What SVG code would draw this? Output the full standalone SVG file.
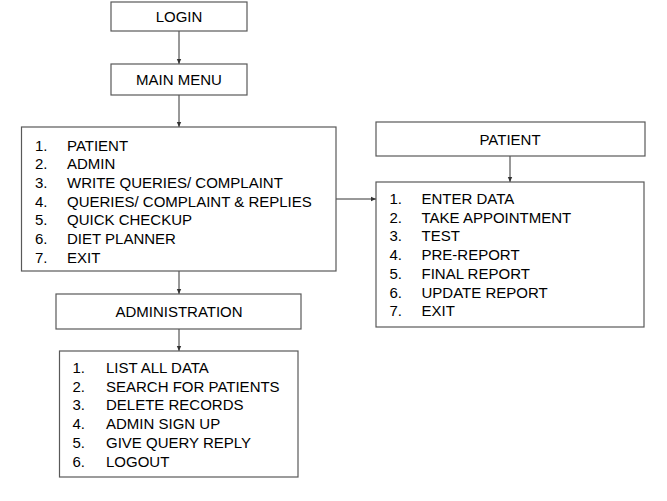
<svg xmlns="http://www.w3.org/2000/svg" width="667" height="501" viewBox="0 0 667 501">
<defs>
<marker id="arr" markerWidth="6" markerHeight="6" refX="5" refY="3" orient="auto" markerUnits="userSpaceOnUse">
<path d="M0,0.8 L5,3 L0,5.2 Z" fill="#333"/>
</marker>
<style>
.box{fill:#fff;stroke:#595959;stroke-width:1.2}
.t{font-family:"Liberation Sans",Arial,sans-serif;font-size:15px;fill:#000}
.c{text-anchor:middle}
.ln{stroke:#333;stroke-width:1;fill:none;marker-end:url(#arr)}
</style>
</defs>
<rect width="667" height="501" fill="#fff"/>
<g id="connectors">
<line class="ln" x1="179" y1="31" x2="179" y2="64"/>
<line class="ln" x1="179" y1="95" x2="179" y2="127"/>
<line class="ln" x1="179" y1="271" x2="179" y2="294"/>
<line class="ln" x1="179" y1="329" x2="179" y2="351"/>
<line class="ln" x1="510" y1="156" x2="510" y2="182"/>
<line class="ln" x1="336" y1="199" x2="376" y2="199"/>
</g>
<g id="login">
<rect class="box" x="111" y="2" width="136" height="29"/>
<text class="t c" x="179" y="22">LOGIN</text>
</g>
<g id="mainmenu">
<rect class="box" x="111" y="64" width="136" height="31"/>
<text class="t c" x="179" y="85">MAIN MENU</text>
</g>
<g id="menu">
<rect class="box" x="21.5" y="127" width="314.5" height="144"/>
<text class="t" x="35" y="150.5">1.</text><text class="t" x="67" y="150.5">PATIENT</text>
<text class="t" x="35" y="169.2">2.</text><text class="t" x="67" y="169.2">ADMIN</text>
<text class="t" x="35" y="187.9">3.</text><text class="t" x="67" y="187.9">WRITE QUERIES/ COMPLAINT</text>
<text class="t" x="35" y="206.6">4.</text><text class="t" x="67" y="206.6">QUERIES/ COMPLAINT &amp; REPLIES</text>
<text class="t" x="35" y="225.3">5.</text><text class="t" x="67" y="225.3">QUICK CHECKUP</text>
<text class="t" x="35" y="244">6.</text><text class="t" x="67" y="244">DIET PLANNER</text>
<text class="t" x="35" y="262.7">7.</text><text class="t" x="67" y="262.7">EXIT</text>
</g>
<g id="patient">
<rect class="box" x="376" y="122" width="269" height="34"/>
<text class="t c" x="510" y="145">PATIENT</text>
</g>
<g id="patientmenu">
<rect class="box" x="376" y="182" width="268" height="145"/>
<text class="t" x="389.5" y="204">1.</text><text class="t" x="421.5" y="204">ENTER DATA</text>
<text class="t" x="389.5" y="222.7">2.</text><text class="t" x="421.5" y="222.7">TAKE APPOINTMENT</text>
<text class="t" x="389.5" y="241.4">3.</text><text class="t" x="421.5" y="241.4">TEST</text>
<text class="t" x="389.5" y="260.1">4.</text><text class="t" x="421.5" y="260.1">PRE-REPORT</text>
<text class="t" x="389.5" y="278.8">5.</text><text class="t" x="421.5" y="278.8">FINAL REPORT</text>
<text class="t" x="389.5" y="297.5">6.</text><text class="t" x="421.5" y="297.5">UPDATE REPORT</text>
<text class="t" x="389.5" y="316.2">7.</text><text class="t" x="421.5" y="316.2">EXIT</text>
</g>
<g id="administration">
<rect class="box" x="56" y="294" width="245" height="35"/>
<text class="t c" x="179" y="317">ADMINISTRATION</text>
</g>
<g id="adminmenu">
<rect class="box" x="59.5" y="351" width="238.5" height="126"/>
<text class="t" x="72.5" y="373">1.</text><text class="t" x="106" y="373">LIST ALL DATA</text>
<text class="t" x="72.5" y="391.7">2.</text><text class="t" x="106" y="391.7">SEARCH FOR PATIENTS</text>
<text class="t" x="72.5" y="410.4">3.</text><text class="t" x="106" y="410.4">DELETE RECORDS</text>
<text class="t" x="72.5" y="429.1">4.</text><text class="t" x="106" y="429.1">ADMIN SIGN UP</text>
<text class="t" x="72.5" y="447.8">5.</text><text class="t" x="106" y="447.8">GIVE QUERY REPLY</text>
<text class="t" x="72.5" y="466.5">6.</text><text class="t" x="106" y="466.5">LOGOUT</text>
</g>
</svg>
